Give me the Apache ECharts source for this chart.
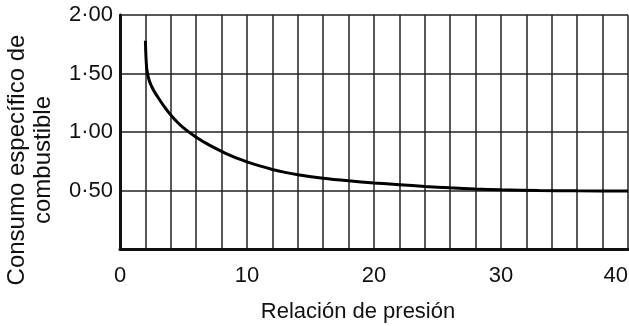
<!DOCTYPE html>
<html>
<head>
<meta charset="utf-8">
<script src="https://cdn.jsdelivr.net/npm/echarts@6/dist/echarts.min.js"></script>
<style>html,body{margin:0;padding:0;background:#fff}#c{width:629px;height:326px}</style>
</head>
<body>
<div id="c"></div>
<script>
var pressureRatio = [2.0, 2.05, 2.12, 2.3, 2.6, 3, 3.5, 4, 4.5, 5, 6, 7, 8, 9, 10, 11, 12, 13, 14, 16, 18, 20, 22, 24, 26, 28, 30, 33, 36, 40];
var fuelConsumption = [1.78, 1.63, 1.53, 1.44, 1.365, 1.295, 1.215, 1.145, 1.085, 1.035, 0.955, 0.89, 0.835, 0.785, 0.745, 0.71, 0.68, 0.655, 0.635, 0.605, 0.583, 0.565, 0.55, 0.535, 0.523, 0.513, 0.506, 0.5, 0.497, 0.495];
var xTickLabels = [0, 10, 20, 30, 40];
var yTickLabels = ['0·50', '1·00', '1·50', '2·00'];
var xTitle = 'Relación de presión';
var yTitle = 'Consumo específico de\ncombustible';

var data = pressureRatio.map(function (x, i) { return [x, fuelConsumption[i]]; });
var chart = echarts.init(document.getElementById('c'));
var font = 'Liberation Sans, Arial, sans-serif';
chart.setOption({
  animation: false,
  grid: { left: 120, right: 1, top: 15, bottom: 77, outerBoundsMode: 'none', containLabel: false },
  xAxis: {
    type: 'value', min: 0, max: 40, interval: 2,
    name: xTitle, nameLocation: 'middle', nameGap: 52,
    nameTextStyle: { fontFamily: font, fontSize: 22, color: '#111', padding: [0, 32, 0, 0] },
    axisLine: { show: true, lineStyle: { color: '#111', width: 3 } },
    axisTick: { show: false },
    axisLabel: {
      fontFamily: font, fontSize: 22, color: '#111', margin: 16, alignMaxLabel: 'right',
      formatter: function (v) { return xTickLabels.indexOf(v) >= 0 ? String(v) : ''; }
    },
    splitLine: { show: true, lineStyle: { color: '#222', width: 1.5 } }
  },
  yAxis: {
    type: 'value', min: 0, max: 2, interval: 0.5,
    name: yTitle, nameLocation: 'middle', nameGap: 64,
    nameTextStyle: { fontFamily: font, fontSize: 24, color: '#111', lineHeight: 26, padding: [0, 56, 0, 0] },
    axisLine: { show: true, lineStyle: { color: '#111', width: 3 } },
    axisTick: { show: false },
    axisLabel: {
      fontFamily: font, fontSize: 22, color: '#111', margin: 7,
      formatter: function (v) { var i = Math.round(v / 0.5) - 1; return i >= 0 ? yTickLabels[i] : ''; }
    },
    splitLine: { show: true, lineStyle: { color: '#222', width: 1.5 } }
  },
  series: [{
    type: 'line', data: data, showSymbol: false, smooth: 0.3,
    lineStyle: { color: '#000', width: 3 }
  }]
});
</script>
</body>
</html>
